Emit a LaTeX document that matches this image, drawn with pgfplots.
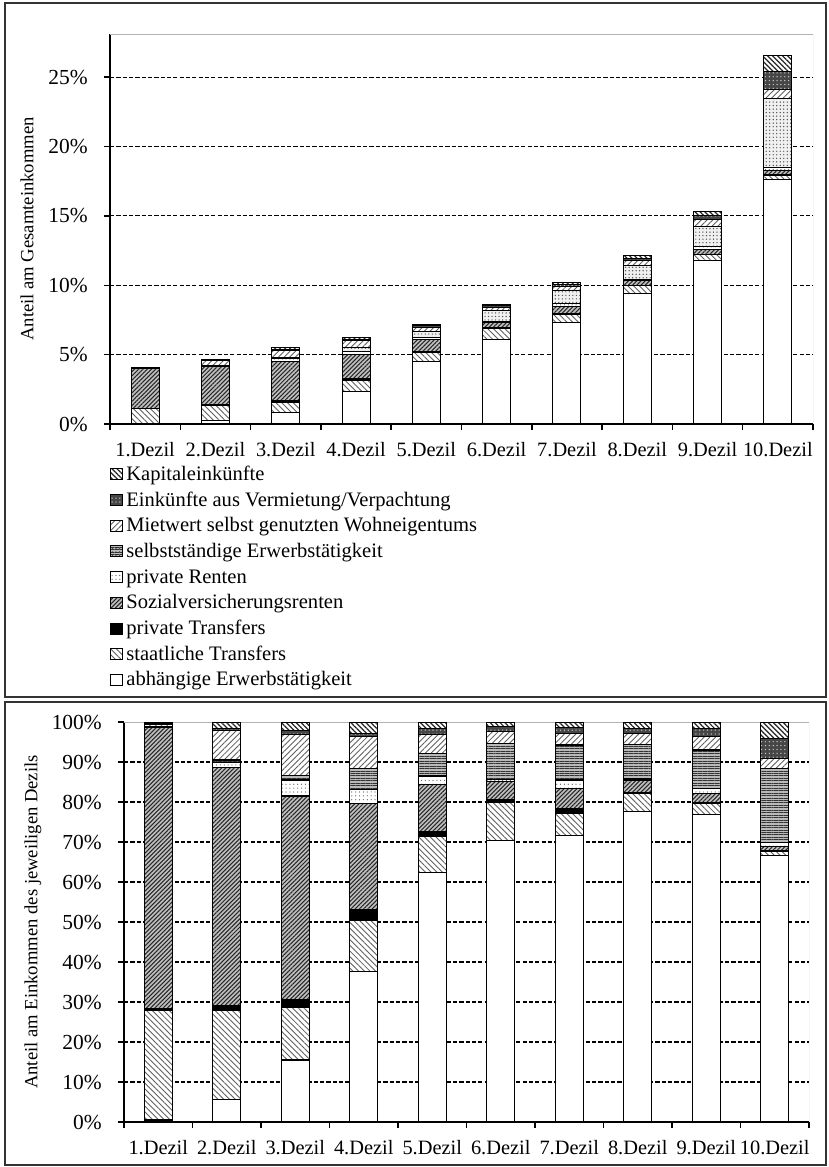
\documentclass[border=0pt]{standalone}
\usepackage{fontspec}
\setmainfont{Liberation Serif}
\usepackage{pgfplots}
\usepackage{pgfplotstable}
\pgfplotsset{compat=1.18}
\usetikzlibrary{patterns.meta}

% shares of total income (top) and shares within each decile (bottom)
\pgfplotstableread{
x  abh   staat privTr sozial privRen selbst miet  verm  kap
1  0.02  1.12  0.01   2.85   0.004  0.004  0.02  0.01  0.02
2  0.27  1.04  0.06   2.77   0.06   0.03   0.34  0.03  0.07
3  0.85  0.73  0.11   2.79   0.22   0.06   0.56  0.055 0.12
4  2.35  0.80  0.16   1.67   0.22   0.325  0.49  0.056 0.175
5  4.49  0.64  0.094  0.84   0.16   0.41   0.34  0.11  0.115
6  6.06  0.83  0.05   0.40   0.05   0.78   0.25  0.10  0.10
7  7.29  0.57  0.12   0.51   0.21   0.89   0.30  0.14  0.14
8  9.39  0.56  0.02   0.38   0.04   1.03   0.35  0.15  0.19
9  11.77 0.43  0.03   0.35   0.18   1.47   0.50  0.32  0.24
10 17.65 0.27  0.05   0.27   0.27   4.93   0.66  1.33  1.09
}\topdata

\pgfplotstableread{
x  abh   staat privTr sozial privRen selbst miet  verm  kap
1  0.5   27.5  0.3    70.3   0.1    0.1    0.5   0.3   0.4
2  5.7   22.3  1.2    59.4   1.2    0.7    7.3   0.6   1.6
3  15.5  13.2  2.0    50.8   4.0    1.1    10.2  1.0   2.2
4  37.6  12.8  2.6    26.7   3.5    5.2    7.9   0.9   2.8
5  62.4  8.9   1.3    11.7   2.2    5.7    4.7   1.5   1.6
6  70.3  9.6   0.6    4.6    0.6    9.0    2.9   1.2   1.2
7  71.6  5.6   1.2    5.0    2.1    8.75   2.95  1.4   1.4
8  77.6  4.6   0.2    3.1    0.3    8.5    2.9   1.2   1.6
9  76.9  2.8   0.2    2.3    1.2    9.6    3.3   2.1   1.6
10 66.6  1.0   0.2    1.0    1.0    18.6   2.5   5.0   4.1
}\botdata

\tikzset{
  sAbh/.style={draw=black, line width=0.6pt, fill=white},
  sStaat/.style={draw=black, line width=0.6pt, fill=white,
    postaction={pattern={Lines[angle=-45,distance=2.3pt,line width=0.5pt]},pattern color=gray!75!black}},
  sPrivTr/.style={draw=black, line width=0.6pt, fill=black},
  sSozial/.style={draw=black, line width=0.6pt, fill=gray!50,
    postaction={pattern={Lines[angle=45,distance=1.7pt,line width=0.6pt]},pattern color=black!85}},
  sPrivRen/.style={draw=black, line width=0.6pt, fill=white,
    postaction={pattern={Dots[distance=2.2pt,radius=0.35pt]},pattern color=gray!70!black}},
  sSelbst/.style={draw=black, line width=0.6pt, fill=gray!55,
    postaction={pattern={Lines[angle=0,distance=1.4pt,line width=0.45pt]},pattern color=black!80}},
  % in the upper panel of the scan the self-employment segments come out dotted
  sSelbstTop/.style={draw=black, line width=0.6pt, fill=gray!12,
    postaction={pattern={Dots[distance=2pt,radius=0.4pt]},pattern color=gray!60!black}},
  sMiet/.style={draw=black, line width=0.6pt, fill=white,
    postaction={pattern={Lines[angle=45,distance=2.3pt,line width=0.5pt]},pattern color=gray!75!black}},
  sVerm/.style={draw=black, line width=0.6pt, fill=gray!55!black,
    postaction={pattern={Dots[distance=2.2pt,radius=0.4pt]},pattern color=gray!40}},
  sKap/.style={draw=black, line width=0.6pt, fill=white,
    postaction={pattern={Lines[angle=-45,distance=2pt,line width=0.7pt]},pattern color=black!85}},
}

\pgfplotsset{
  dezil/.style={
    scale only axis, ybar stacked, bar width=0.56cm,
    xmin=0.5, xmax=10.5,
    axis x line*=bottom, axis y line*=left,
    axis line style={line width=0.8pt, -},
    tick align=outside, major tick length=0.12cm,
    tick style={black, line width=0.8pt},
    xtick={0.5,1.5,...,10.5}, xticklabels={},
    extra x ticks={1,...,10},
    extra x tick labels={1.Dezil,2.Dezil,3.Dezil,4.Dezil,5.Dezil,6.Dezil,7.Dezil,8.Dezil,9.Dezil,10.Dezil},
    extra x tick style={major tick length=0pt, grid=none,
      xticklabel style={font=\fontsize{11.6}{13}\selectfont, anchor=base, yshift=-0.64cm}},
    ymajorgrids,
    grid style={black, line width=0.6pt, dash pattern=on 2.4pt off 1.2pt},
    yticklabel style={font=\fontsize{12.2}{14}\selectfont, anchor=east, xshift=-0.2cm},
    ylabel style={font=\fontsize{10.6}{12}\selectfont, anchor=center},
  },
}

\begin{document}
\begin{tikzpicture}
\path[use as bounding box] (0,0) rectangle (16.56,-23.34);

% upper chart: share of total income
\begin{axis}[dezil,
  at={(2.2cm,-8.48cm)}, anchor=south west,
  width=14.06cm, height=7.8cm,
  ymin=0, ymax=28.1,
  ytick={0,5,...,25},
  yticklabels={0\%,5\%,10\%,15\%,20\%,25\%},
  ylabel={Anteil am Gesamteinkommen},
  ylabel style={at={(axis description cs:-0.118,0.5)}},
  reverse legend,
  legend cell align=left,
  legend image code/.code={\draw[#1] (0cm,-0.08cm) rectangle (0.24cm,0.14cm);},
  legend style={at={(0,0)}, anchor=north west, yshift=-0.86cm,
    draw=none, fill=none, inner sep=0pt, row sep=0.174cm, column sep=0.06cm,
    nodes={inner sep=0pt, text height=0.26cm, text depth=0.08cm,
      font=\fontsize{11.7}{13}\selectfont}},
]
\addplot[sAbh]    table[x=x,y=abh]{\topdata};    \addlegendentry{abhängige Erwerbstätigkeit}
\addplot[sStaat]  table[x=x,y=staat]{\topdata};  \addlegendentry{staatliche Transfers}
\addplot[sPrivTr] table[x=x,y=privTr]{\topdata}; \addlegendentry{private Transfers}
\addplot[sSozial] table[x=x,y=sozial]{\topdata}; \addlegendentry{Sozialversicherungsrenten}
\addplot[sPrivRen] table[x=x,y=privRen]{\topdata}; \addlegendentry{private Renten}
\addplot[sSelbstTop,
  legend image code/.code={\draw[sSelbst] (0cm,-0.08cm) rectangle (0.24cm,0.14cm);}]
  table[x=x,y=selbst]{\topdata}; \addlegendentry{selbstständige Erwerbstätigkeit}
\addplot[sMiet]   table[x=x,y=miet]{\topdata};   \addlegendentry{Mietwert selbst genutzten Wohneigentums}
\addplot[sVerm]   table[x=x,y=verm]{\topdata};   \addlegendentry{Einkünfte aus Vermietung/Verpachtung}
\addplot[sKap]    table[x=x,y=kap]{\topdata};    \addlegendentry{Kapitaleinkünfte}
\draw[gray!60, line width=0.5pt] (rel axis cs:0,1) -- (rel axis cs:1,1) -- (rel axis cs:1,0);
\end{axis}

% lower chart: share within each decile
\begin{axis}[dezil,
  at={(2.48cm,-22.44cm)}, anchor=south west,
  width=13.7cm, height=8cm,
  ymin=0, ymax=100,
  ytick={0,10,...,90},
  yticklabels={0\%,10\%,20\%,30\%,40\%,50\%,60\%,70\%,80\%,90\%},
  extra y ticks={100}, extra y tick labels={100\%},
  extra y tick style={grid=none},
  ylabel={Anteil am Einkommen des jeweiligen Dezils},
  ylabel style={at={(axis description cs:-0.133,0.5)}},
]
\addplot[sAbh]    table[x=x,y=abh]{\botdata};
\addplot[sStaat]  table[x=x,y=staat]{\botdata};
\addplot[sPrivTr] table[x=x,y=privTr]{\botdata};
\addplot[sSozial] table[x=x,y=sozial]{\botdata};
\addplot[sPrivRen] table[x=x,y=privRen]{\botdata};
\addplot[sSelbst] table[x=x,y=selbst]{\botdata};
\addplot[sMiet]   table[x=x,y=miet]{\botdata};
\addplot[sVerm]   table[x=x,y=verm]{\botdata};
\addplot[sKap]    table[x=x,y=kap]{\botdata};
\draw[gray!60, line width=0.5pt] (rel axis cs:0,1) -- (rel axis cs:1,1) -- (rel axis cs:1,0);
\end{axis}

% frames round the two panels
\draw[black!80, line width=1pt] (0.1,-0.06) rectangle (16.52,-13.94);
\draw[black!80, line width=1pt] (0.1,-14.04) rectangle (16.52,-23.3);
\end{tikzpicture}
\end{document}
